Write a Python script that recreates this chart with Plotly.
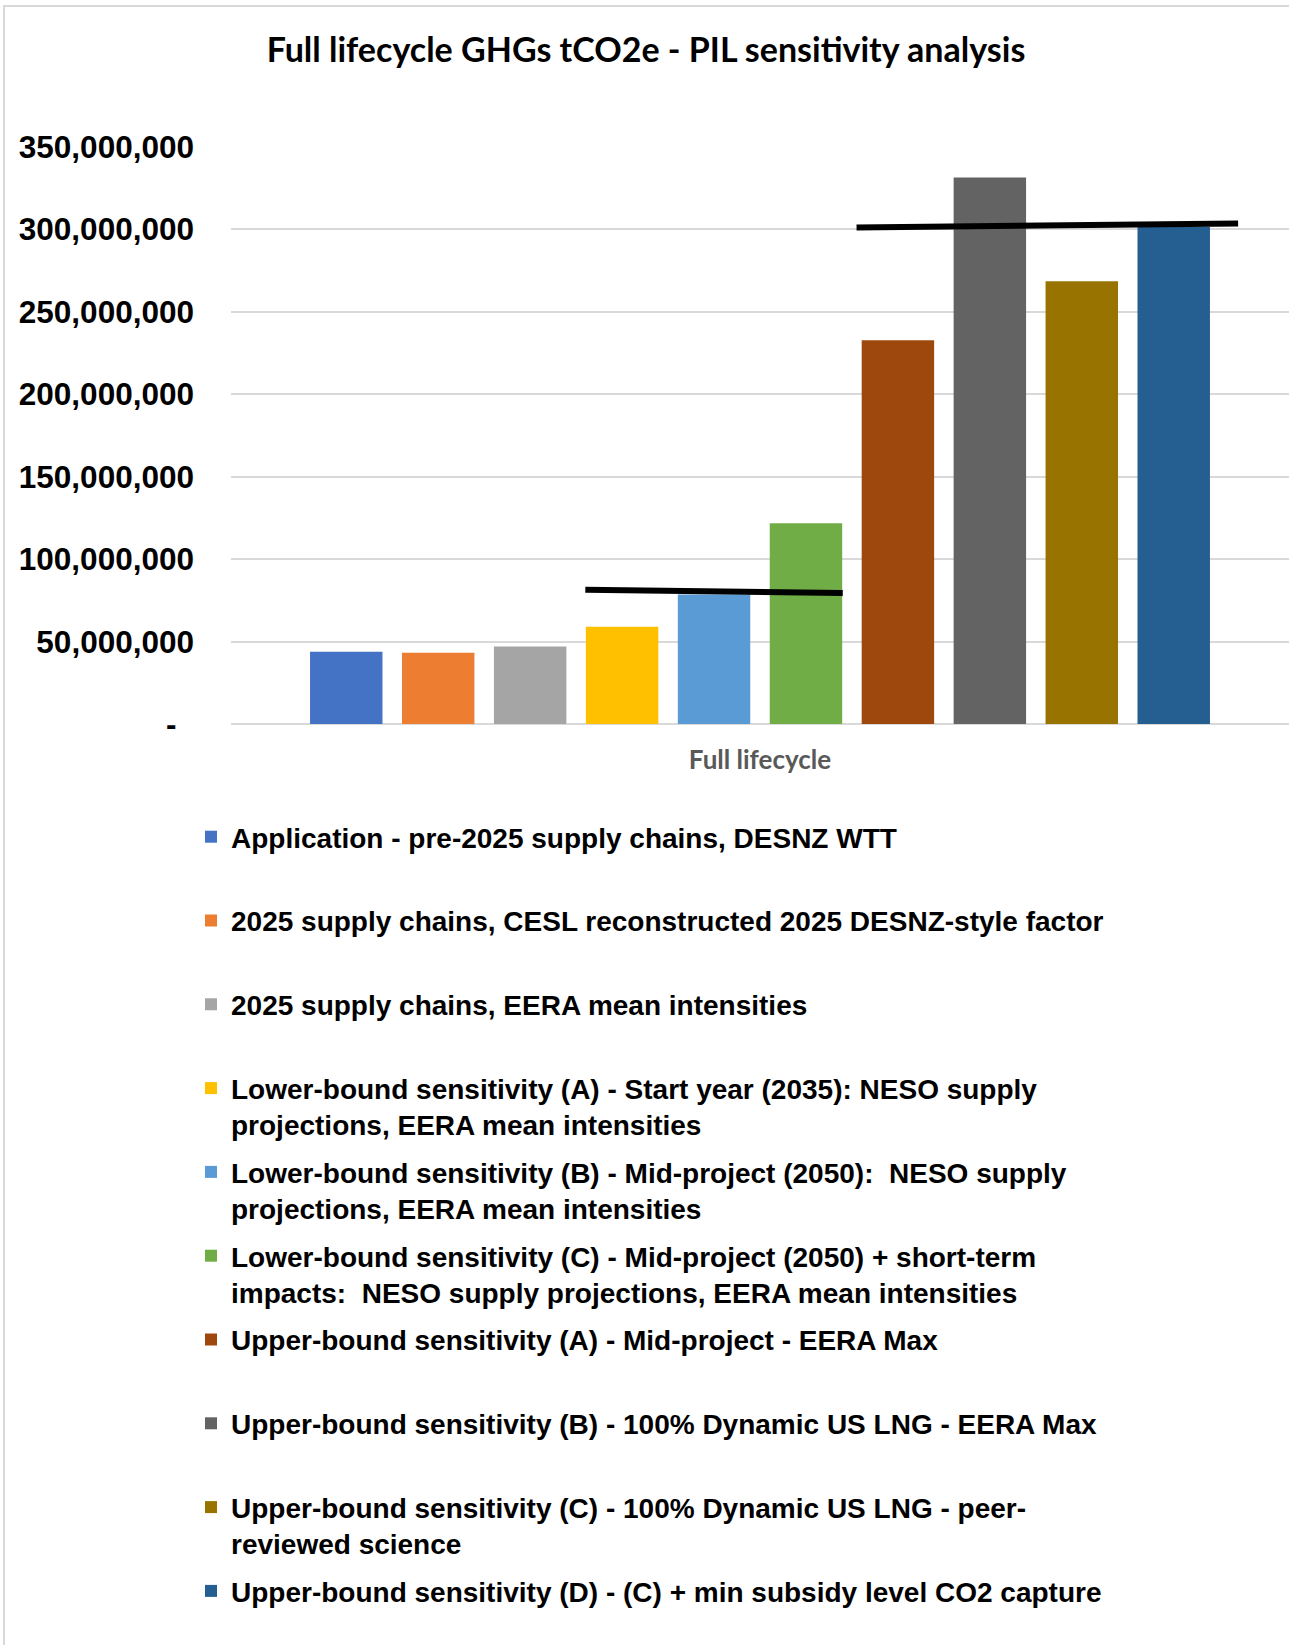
import plotly.graph_objects as go

# ---------------- data ----------------
category = ["Full lifecycle"]
series_names = [
    "Application - pre-2025 supply chains, DESNZ WTT",
    "2025 supply chains, CESL reconstructed 2025 DESNZ-style factor",
    "2025 supply chains, EERA mean intensities",
    "Lower-bound sensitivity (A) - Start year (2035): NESO supply<br>projections, EERA mean intensities",
    "Lower-bound sensitivity (B) - Mid-project (2050):  NESO supply<br>projections, EERA mean intensities",
    "Lower-bound sensitivity (C) - Mid-project (2050) + short-term<br>impacts:  NESO supply projections, EERA mean intensities",
    "Upper-bound sensitivity (A) - Mid-project - EERA Max",
    "Upper-bound sensitivity (B) - 100% Dynamic US LNG - EERA Max",
    "Upper-bound sensitivity (C) - 100% Dynamic US LNG - peer-<br>reviewed science",
    "Upper-bound sensitivity (D) - (C) + min subsidy level CO2 capture",
]
series_values = [43.8e6, 43.2e6, 47.0e6, 59.0e6, 78.6e6, 121.7e6, 232.8e6, 331.5e6, 268.5e6, 301.4e6]
series_colors = ["#4472C4", "#ED7D31", "#A5A5A5", "#FFC000", "#5B9BD5",
                 "#70AD47", "#9E480E", "#636363", "#997300", "#255E91"]

# reference lines (x in bar-index units, y in tCO2e)
low_line_x = [2.6, 5.4]
low_line_y = [81.4e6, 79.4e6]
high_line_x = [5.55, 9.7]
high_line_y = [301.2e6, 303.6e6]

y_tickvals = [0, 50e6, 100e6, 150e6, 200e6, 250e6, 300e6, 350e6]
y_ticktext = ["-\u00a0\u00a0", "50,000,000", "100,000,000", "150,000,000", "200,000,000",
              "250,000,000", "300,000,000", "350,000,000"]

# ---------------- layout constants ----------------
W, H = 1289, 1645
ML, MR, MT, MB = 231, 0, 147, 921
PW = W - ML - MR
PH = H - MT - MB
BARGAP = 0.131
BARGROUPGAP = 0.212
N = len(series_values)

fig = go.Figure()

for i, (name, val, col) in enumerate(zip(series_names, series_values, series_colors)):
    lab = name if "<br>" in name else name + "<br> "
    fig.add_trace(go.Bar(
        x=category, y=[val], name=lab, marker=dict(color=col, line=dict(width=0)),
        legendgroup="g%d" % i,
    ))

for lx, ly in [(low_line_x, low_line_y), (high_line_x, high_line_y)]:
    fig.add_trace(go.Scatter(
        x=lx, y=ly, mode="lines", line=dict(color="black", width=6),
        xaxis="x2", yaxis="y", showlegend=False, hoverinfo="skip",
    ))

# overlay axis in bar-index units aligned with grouped bars
slot = (1 - BARGAP) / N
c0 = -0.5 + BARGAP / 2 + slot / 2
x2_range = [(-0.5 - c0) / slot, (0.5 - c0) / slot]

legend_top_px = 812
legend_left_px = 191

fig.update_layout(
    width=W, height=H,
    margin=dict(l=ML, r=MR, t=MT, b=MB, autoexpand=False),
    paper_bgcolor="white", plot_bgcolor="white",
    barmode="group", bargap=BARGAP, bargroupgap=BARGROUPGAP,
    title=dict(
        text="Full lifecycle GHGs tCO2e - PIL sensitivity analysis",
        font=dict(family="Lato", size=34, color="black", weight="bold"),
        x=646 / W, xanchor="center", xref="container",
        y=1 - 50 / H, yanchor="middle", yref="container",
    ),
    xaxis=dict(
        showgrid=False, zeroline=False, showline=False,
        tickfont=dict(family="Lato", size=26, color="#595959", weight="bold"),
        ticklabelstandoff=18,
    ),
    xaxis2=dict(overlaying="x", range=x2_range, visible=False),
    yaxis=dict(
        range=[0, 350e6], tickvals=y_tickvals, ticktext=y_ticktext,
        showgrid=True, gridcolor="#D9D9D9", gridwidth=2,
        zeroline=True, zerolinecolor="#D9D9D9", zerolinewidth=2,
        showline=False, ticks="",
        tickfont=dict(family="Liberation Sans", size=31.5, color="black", weight="bold"),
        ticklabelstandoff=36,
    ),
    showlegend=True,
    legend=dict(
        x=(legend_left_px - ML) / PW, xanchor="left",
        y=(MT + PH - legend_top_px) / PH, yanchor="top",
        font=dict(family="Liberation Sans", size=28, color="black", weight="bold"),
        traceorder="grouped", tracegroupgap=8, valign="top",
        bgcolor="rgba(0,0,0,0)", maxheight=1000,
    ),
    shapes=[dict(
        type="rect", xref="paper", yref="paper",
        x0=(4 - ML) / PW, x1=(W + 10 - ML) / PW,
        y0=(MT + PH - (H + 10)) / PH, y1=(MT + PH - 6) / PH,
        line=dict(color="#D9D9D9", width=2), fillcolor="rgba(0,0,0,0)", layer="below",
    )],
)

fig.write_html("out.html")
